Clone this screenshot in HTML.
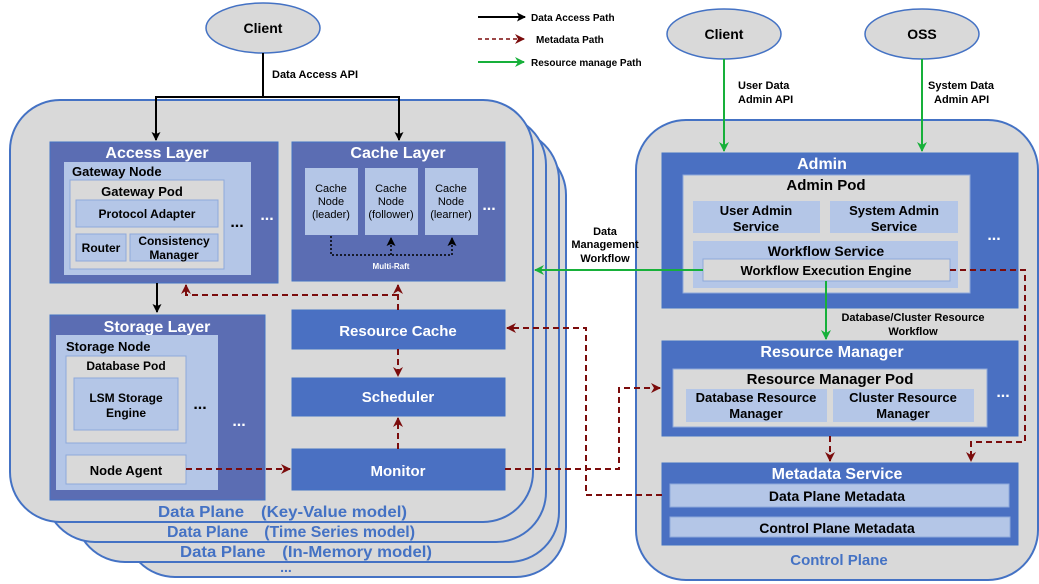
<!DOCTYPE html>
<html><head><meta charset="utf-8"><style>
html,body{margin:0;padding:0;background:#fff;}
svg{display:block;font-family:"Liberation Sans",Arial,sans-serif;font-weight:bold;}
</style></head><body>
<svg width="1039" height="584" viewBox="0 0 1039 584" xmlns="http://www.w3.org/2000/svg">
<defs>
<marker id="ab" markerWidth="9" markerHeight="9" refX="8" refY="4.5" orient="auto" markerUnits="userSpaceOnUse"><path d="M0,0 L9,4.5 L0,9 L2,4.5 Z" fill="#000"/></marker>
<marker id="ar" markerWidth="10" markerHeight="10" refX="9" refY="5" orient="auto" markerUnits="userSpaceOnUse"><path d="M0,0 L10,5 L0,10 L3,5 Z" fill="#7b0c0c"/></marker>
<marker id="ag" markerWidth="10" markerHeight="10" refX="9" refY="5" orient="auto" markerUnits="userSpaceOnUse"><path d="M0,0 L10,5 L0,10 L3,5 Z" fill="#17b03a"/></marker>
</defs>

<rect x="125" y="145" width="441" height="432" rx="50" fill="#d9d9d9" stroke="#4472c4" stroke-width="2"/>
<rect x="75" y="130" width="484" height="432" rx="50" fill="#d9d9d9" stroke="#4472c4" stroke-width="2"/>
<rect x="45" y="115" width="501" height="427" rx="50" fill="#d9d9d9" stroke="#4472c4" stroke-width="2"/>
<rect x="10" y="100" width="523" height="422" rx="50" fill="#d9d9d9" stroke="#4472c4" stroke-width="2"/>

<rect x="636" y="120" width="402" height="460" rx="50" fill="#d9d9d9" stroke="#4472c4" stroke-width="2"/>

<rect x="50" y="142" width="228" height="141" fill="#5b6db3" stroke="#4472c4"/>
<text x="157" y="158" fill="#fff" font-size="16" text-anchor="middle">Access Layer</text>
<rect x="64" y="162" width="187" height="113" fill="#b4c6e7"/>
<text x="72" y="176" font-size="13">Gateway Node</text>
<rect x="70" y="180" width="154" height="89" fill="#d9d9d9" stroke="#8ea9db"/>
<text x="142" y="196" font-size="13" text-anchor="middle">Gateway Pod</text>
<rect x="76" y="200" width="142" height="27" fill="#b4c6e7" stroke="#8ea9db"/>
<text x="147" y="218" font-size="12" text-anchor="middle">Protocol Adapter</text>
<rect x="76" y="234" width="50" height="27" fill="#b4c6e7" stroke="#8ea9db"/>
<text x="101" y="252" font-size="12" text-anchor="middle">Router</text>
<rect x="130" y="234" width="88" height="27" fill="#b4c6e7" stroke="#8ea9db"/>
<text x="174" y="245" font-size="12" text-anchor="middle">Consistency</text>
<text x="174" y="259" font-size="12" text-anchor="middle">Manager</text>
<text x="237" y="227" font-size="16" text-anchor="middle">...</text>
<text x="267" y="220" font-size="16" fill="#fff" text-anchor="middle">...</text>

<rect x="292" y="142" width="213" height="139" fill="#5b6db3" stroke="#4472c4"/>
<text x="398" y="158" fill="#fff" font-size="16" text-anchor="middle">Cache Layer</text>
<rect x="305" y="168" width="53" height="67" fill="#b4c6e7"/>
<rect x="365" y="168" width="53" height="67" fill="#b4c6e7"/>
<rect x="425" y="168" width="53" height="67" fill="#b4c6e7"/>
<g font-size="11" text-anchor="middle" font-weight="normal">
<text x="331" y="192">Cache</text><text x="331" y="205">Node</text><text x="331" y="218">(leader)</text>
<text x="391" y="192">Cache</text><text x="391" y="205">Node</text><text x="391" y="218">(follower)</text>
<text x="451" y="192">Cache</text><text x="451" y="205">Node</text><text x="451" y="218">(learner)</text>
</g>
<text x="489" y="210" font-size="16" fill="#fff" text-anchor="middle">...</text>
<path d="M331,236 V255 H452" fill="none" stroke="#000" stroke-width="1.5" stroke-dasharray="2,2"/>
<path d="M391,255 V238" fill="none" stroke="#000" stroke-width="1.5" stroke-dasharray="2,2" marker-end="url(#ab)"/>
<path d="M452,255 V238" fill="none" stroke="#000" stroke-width="1.5" stroke-dasharray="2,2" marker-end="url(#ab)"/>
<text x="391" y="269" font-size="8" fill="#fff" text-anchor="middle">Multi-Raft</text>

<rect x="50" y="315" width="215" height="185" fill="#5b6db3" stroke="#4472c4"/>
<text x="157" y="332" fill="#fff" font-size="16" text-anchor="middle">Storage Layer</text>
<rect x="56" y="335" width="162" height="155" fill="#b4c6e7"/>
<text x="66" y="351" font-size="13">Storage Node</text>
<rect x="66" y="356" width="120" height="87" fill="#d9d9d9" stroke="#8ea9db"/>
<text x="126" y="370" font-size="12" text-anchor="middle">Database Pod</text>
<rect x="74" y="378" width="104" height="52" fill="#b4c6e7" stroke="#8ea9db"/>
<text x="126" y="402" font-size="12" text-anchor="middle">LSM Storage</text>
<text x="126" y="417" font-size="12" text-anchor="middle">Engine</text>
<text x="200" y="409" font-size="16" text-anchor="middle">...</text>
<rect x="66" y="455" width="120" height="29" fill="#d9d9d9" stroke="#8ea9db"/>
<text x="126" y="475" font-size="13" text-anchor="middle">Node Agent</text>
<text x="239" y="426" font-size="16" fill="#fff" text-anchor="middle">...</text>

<rect x="292" y="310" width="213" height="39" fill="#4a70c2" stroke="#4472c4"/>
<text x="398" y="336" fill="#fff" font-size="15" text-anchor="middle">Resource Cache</text>
<rect x="292" y="378" width="213" height="38" fill="#4a70c2" stroke="#4472c4"/>
<text x="398" y="402" fill="#fff" font-size="15" text-anchor="middle">Scheduler</text>
<rect x="292" y="449" width="213" height="41" fill="#4a70c2" stroke="#4472c4"/>
<text x="398" y="476" fill="#fff" font-size="15" text-anchor="middle">Monitor</text>

<g fill="#4472c4" font-size="16">
<text x="158" y="517" textLength="249" lengthAdjust="spacingAndGlyphs">Data Plane　(Key-Value model)</text>
<text x="167" y="537" textLength="248" lengthAdjust="spacingAndGlyphs">Data Plane　(Time Series model)</text>
<text x="180" y="557" textLength="252" lengthAdjust="spacingAndGlyphs">Data Plane　(In-Memory model)</text>
<text x="286" y="572" font-size="14" text-anchor="middle">...</text>
</g>

<rect x="662" y="153" width="356" height="155" fill="#4a70c2" stroke="#4472c4"/>
<text x="822" y="169" fill="#fff" font-size="16" text-anchor="middle">Admin</text>
<rect x="683" y="175" width="287" height="118" fill="#d9d9d9" stroke="#8ea9db"/>
<text x="826" y="190" font-size="15" text-anchor="middle">Admin Pod</text>
<rect x="693" y="201" width="127" height="32" fill="#b4c6e7"/>
<text x="756" y="215" font-size="13" text-anchor="middle">User Admin</text>
<text x="756" y="231" font-size="13" text-anchor="middle">Service</text>
<rect x="830" y="201" width="128" height="32" fill="#b4c6e7"/>
<text x="894" y="215" font-size="13" text-anchor="middle">System Admin</text>
<text x="894" y="231" font-size="13" text-anchor="middle">Service</text>
<rect x="693" y="241" width="265" height="47" fill="#b4c6e7"/>
<text x="826" y="256" font-size="14" text-anchor="middle">Workflow Service</text>
<rect x="703" y="259" width="247" height="22" fill="#d9d9d9" stroke="#8ea9db"/>
<text x="826" y="275" font-size="13" text-anchor="middle">Workflow Execution Engine</text>
<text x="994" y="240" font-size="16" fill="#fff" text-anchor="middle">...</text>

<rect x="662" y="341" width="356" height="95" fill="#4a70c2" stroke="#4472c4"/>
<text x="832" y="357" fill="#fff" font-size="16" text-anchor="middle">Resource Manager</text>
<rect x="673" y="369" width="314" height="58" fill="#d9d9d9" stroke="#8ea9db"/>
<text x="830" y="384" font-size="15" text-anchor="middle">Resource Manager Pod</text>
<rect x="686" y="389" width="141" height="33" fill="#b4c6e7"/>
<text x="756" y="402" font-size="13" text-anchor="middle">Database Resource</text>
<text x="756" y="418" font-size="13" text-anchor="middle">Manager</text>
<rect x="833" y="389" width="141" height="33" fill="#b4c6e7"/>
<text x="903" y="402" font-size="13" text-anchor="middle">Cluster Resource</text>
<text x="903" y="418" font-size="13" text-anchor="middle">Manager</text>
<text x="1003" y="397" font-size="16" fill="#fff" text-anchor="middle">...</text>

<rect x="662" y="463" width="356" height="82" fill="#4a70c2" stroke="#4472c4"/>
<text x="837" y="479" fill="#fff" font-size="16" text-anchor="middle">Metadata Service</text>
<rect x="670" y="484" width="339" height="23" fill="#b4c6e7" stroke="#8ea9db"/>
<text x="837" y="501" font-size="14" text-anchor="middle">Data Plane Metadata</text>
<rect x="670" y="517" width="340" height="20" fill="#b4c6e7" stroke="#8ea9db"/>
<text x="837" y="533" font-size="14" text-anchor="middle">Control Plane Metadata</text>
<text x="839" y="565" fill="#4472c4" font-size="15" text-anchor="middle">Control Plane</text>

<ellipse cx="263" cy="28" rx="57" ry="25" fill="#d9d9d9" stroke="#4472c4" stroke-width="1.5"/>
<text x="263" y="33" font-size="14" text-anchor="middle">Client</text>
<ellipse cx="724" cy="34" rx="57" ry="25" fill="#d9d9d9" stroke="#4472c4" stroke-width="1.5"/>
<text x="724" y="39" font-size="14" text-anchor="middle">Client</text>
<ellipse cx="922" cy="34" rx="57" ry="25" fill="#d9d9d9" stroke="#4472c4" stroke-width="1.5"/>
<text x="922" y="39" font-size="14" text-anchor="middle">OSS</text>

<path d="M263,53 V97 M155,97 H400" stroke="#000" stroke-width="2" fill="none"/>
<path d="M156,97 V140" stroke="#000" stroke-width="2" fill="none" marker-end="url(#ab)"/>
<path d="M399,97 V140" stroke="#000" stroke-width="2" fill="none" marker-end="url(#ab)"/>
<path d="M157,283 V312" stroke="#000" stroke-width="2" fill="none" marker-end="url(#ab)"/>
<text x="272" y="78" font-size="11">Data Access API</text>

<path d="M478,17 H525" stroke="#000" stroke-width="2" marker-end="url(#ab)"/>
<text x="531" y="21" font-size="10">Data Access Path</text>
<path d="M478,39 H524" stroke="#7b0c0c" stroke-width="1.5" stroke-dasharray="4,3" marker-end="url(#ar)"/>
<text x="536" y="43" font-size="10">Metadata Path</text>
<path d="M478,62 H524" stroke="#17b03a" stroke-width="2" marker-end="url(#ag)"/>
<text x="531" y="66" font-size="10">Resource manage Path</text>

<path d="M724,59 V151" stroke="#17b03a" stroke-width="2" marker-end="url(#ag)"/>
<path d="M922,59 V151" stroke="#17b03a" stroke-width="2" marker-end="url(#ag)"/>
<text x="738" y="89" font-size="11">User Data</text>
<text x="738" y="103" font-size="11">Admin API</text>
<text x="928" y="89" font-size="11">System Data</text>
<text x="934" y="103" font-size="11">Admin API</text>
<path d="M703,270 H535" stroke="#17b03a" stroke-width="2" marker-end="url(#ag)"/>
<text x="605" y="235" font-size="11" text-anchor="middle">Data</text>
<text x="605" y="248" font-size="11" text-anchor="middle">Management</text>
<text x="605" y="262" font-size="11" text-anchor="middle">Workflow</text>
<path d="M826,281 V339" stroke="#17b03a" stroke-width="2" marker-end="url(#ag)"/>
<text x="913" y="321" font-size="11" text-anchor="middle">Database/Cluster Resource</text>
<text x="913" y="335" font-size="11" text-anchor="middle">Workflow</text>

<g stroke="#7b0c0c" stroke-width="2" fill="none" stroke-dasharray="6,4">
<path d="M398,310 V285" marker-end="url(#ar)"/>
<path d="M398,295 H186 V285" marker-end="url(#ar)"/>
<path d="M398,349 V376" marker-end="url(#ar)"/>
<path d="M398,449 V418" marker-end="url(#ar)"/>
<path d="M186,469 H290" marker-end="url(#ar)"/>
<path d="M505,469 H619 V388 H660" marker-end="url(#ar)"/>
<path d="M662,495 H586 V328 H507" marker-end="url(#ar)"/>
<path d="M950,270 H1025 V442 H971 V461" marker-end="url(#ar)"/>
<path d="M830,436 V461" marker-end="url(#ar)"/>
</g>
</svg>
</body></html>
